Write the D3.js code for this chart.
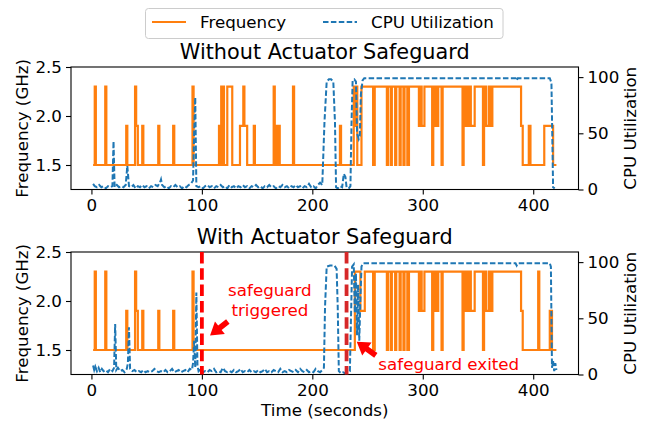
<!DOCTYPE html>
<html>
<head>
<meta charset="utf-8">
<script src="https://cdn.jsdelivr.net/npm/d3@7"></script>
<style>
  body { margin: 0; background: #fff; }
  svg text { font-family: "DejaVu Sans", sans-serif; }
</style>
</head>
<body>
<div class="visHolder"></div>
<script>
// frequency steps: [time (s), GHz], each value holds until the next point
var freqTop = [
  [1.5,1.5],[3,2.3],[4,1.5],[12.5,2.3],[13.5,1.5],[31.5,1.9],[32.5,1.5],[39.5,2.3],[40.5,1.9],[42,1.5],
  [46,1.9],[47,1.5],[60.5,1.9],[61.5,1.5],[74,1.9],[75,1.5],[91.5,2.3],[92.5,1.5],
  [115.5,1.9],[116.5,1.5],[117.5,2.3],[118,1.5],[119,2.3],[120,1.5],[123,2.3],[127.5,1.5],
  [134.5,1.9],[137.5,2.3],[138.5,1.9],[141,1.5],[147,1.9],[148,1.5],[165,2.3],[166,1.5],[167,1.9],
  [168,1.5],[169.5,1.9],[170.5,1.5],[182.5,2.3],[183.5,1.5],[225,1.9],[226,1.5],
  [237.5,2.3],[238.5,1.9],[239,2.3],[240.7,1.5],[244.5,2.3],[255,1.5],[256.5,2.3],[267.5,1.5],[268.5,2.3],
  [271,1.5],[272,2.3],[275,1.5],[276,2.3],[279,1.5],[280,2.3],[282.5,1.5],[283.5,2.3],[286,1.5],[287.5,2.3],
  [296.5,1.9],[298,2.3],[299,1.9],[301.5,2.3],[308.5,1.5],[309.5,2.3],[310,1.9],[311.5,2.3],[312.5,1.9],
  [314,2.3],[317,1.5],[318,2.3],[336,1.5],[337,2.3],[338.5,1.9],[340,2.3],[341,1.9],[342,2.3],
  [343.5,1.9],[347,2.3],[354.5,1.5],[355.5,2.3],[357.5,1.9],[360,2.3],[361,1.9],[363,2.3],
  [389,1.9],[390.5,1.5],[396,1.9],[397.5,1.5],[410,1.9],[418,1.5],[421,1.5]
];

var freqBottom = [
  [1.5,1.5],[3,2.3],[4,1.5],[12.5,2.3],[13.5,1.5],[31.5,1.9],[32.5,1.5],[39.5,2.3],[40.5,1.9],[42,1.5],
  [46,1.9],[47,1.5],[60.5,1.9],[61.5,1.5],[74,1.9],[75,1.5],[91.5,2.3],[92.5,1.5],
  [238.5,2.3],[243.5,1.9],[247.5,2.3],[255,1.5],[256.5,2.3],[267.5,1.5],[268.5,2.3],
  [271,1.5],[272,2.3],[275,1.5],[276,2.3],[279,1.5],[280,2.3],[282.5,1.5],[283.5,2.3],[286,1.5],[287.5,2.3],
  [296.5,1.9],[298,2.3],[299,1.9],[301.5,2.3],[308.5,1.5],[309.5,2.3],[310,1.9],[311.5,2.3],[312.5,1.9],
  [314,2.3],[317,1.5],[318,2.3],[336,1.5],[337,2.3],[338.5,1.9],[340,2.3],[341,1.9],[342,2.3],
  [343.5,1.9],[347,2.3],[354.5,1.5],[355.5,2.3],[357.5,1.9],[360,2.3],[361,1.9],[363,2.3],
  [389,1.9],[390.5,1.5],[404.5,2.3],[405.5,1.5],[415,1.9],[417,1.5],[421,1.5]
];

// cpu utilization samples: [time (s), %]
var cpuTop = [
  [1.5,5],[3,3],[5,2],[7,4],[9,2],[11,3],[13,1],[15,3],[17,2],[19,3],[20,43],[21,2],[23,4],[25,2],
  [27,3],[29,2],[31,4],[32.5,21],[34,3],[36,2],[38,4],[40,1],[42,3],[44,2],[46,4],[48,2],[50,3],[52,1],
  [54,3],[56,2],[58,4],[60,3],[62,6],[63,9],[64,4],[66,2],[68,3],[70,1],[72,3],[74,2],[76,4],[78,2],
  [80,3],[82,1],[84,3],[86,2],[88,4],[90,5],[92,8],[93,50],[94,82],[95,3],[97,2],[99,3],[101,1],[103,3],
  [105,4],[107,2],[109,3],[111,1],[113,3],[115,2],[117,4],[119,2],[121,3],[123,1],[125,4],[127,2],
  [129,3],[131,1],[133,3],[135,2],[137,4],[139,2],[141,3],[143,1],[145,3],[147,2],[149,4],[151,2],
  [153,3],[155,1],[157,3],[159,2],[161,4],[163,2],[165,3],[167,1],[169,3],[171,2],[173,4],[175,2],
  [177,3],[179,1],[181,3],[183,2],[185,4],[187,2],[189,3],[191,1],[193,3],[195,2],[197,5],[199,2],
  [201,3],[203,1],[205,4],[207,6],[209,4],[211,60],[213,96],[215,98],[217,98],[219,96],[220.5,60],
  [221.5,2],[223,1],[225,3],[227,2],[228.5,14],[230,11],[231,2],[233,1],[234.5,3],[235.5,60],[236.5,97],
  [238,98],[239.5,96],[240.5,50],[242,45],[243,48],[244,85],[245.5,97],[247,99],[384,99],[385,97],
  [386,99],[415,99],[416.5,95],[418,2],[419.5,1]
];

var cpuBottom = [
  [1.5,8],[2.5,4],[3.5,7],[5,3],[6.5,6],[8,2],[9.5,5],[11,3],[13,4],[15,2],[17,5],[19,3],[20.5,6],
  [21.5,45],[22.5,4],[24,6],[26,3],[28,4],[30,2],[32,5],[33,10],[34,42],[35,5],[37,3],[39,4],[41,2],
  [43,3],[45,2],[47,4],[49,2],[51,3],[53,2],[55,3],[57,5],[59,3],[61,2],[63,3],[65,2],[67,4],[69,2],
  [71,3],[73,5],[75,2],[77,3],[79,4],[81,2],[83,3],[85,4],[87,2],[89,5],[91,4],[92,10],[93,30],[94,6],
  [95,73],[96,8],[97,3],[99,5],[101,2],[103,3],[105,2],[107,4],[109,3],[111,5],[113,2],[115,3],[117,2],
  [119,6],[121,3],[123,2],[125,3],[127,2],[129,4],[131,2],[133,3],[135,5],[137,2],[139,3],[141,2],
  [143,4],[145,2],[147,3],[149,2],[151,4],[153,2],[155,3],[157,5],[159,2],[161,3],[163,2],[165,4],
  [167,3],[169,2],[171,5],[173,2],[175,3],[177,2],[179,4],[181,3],[183,2],[185,4],[187,2],[189,5],
  [191,3],[193,2],[195,4],[197,2],[199,3],[201,2],[203,5],[205,3],[207,2],[209,4],[210.5,6],[211.5,60],
  [213,96],[216,97],[220,97],[222,94],[223,60],[224,3],[226,1],[228,2],[230,1],[232,2],[234,3],[235,50],
  [236,96],[237.5,98],[238.5,55],[239.5,90],[240.5,35],[241.5,80],[242.5,30],[243.5,65],[244.5,96],
  [246,99],[384,99],[385,97],[386,99],[415,99],[416,96],[417,6],[418,12],[419,3],[420,10],[421,4]
];

var xTicks = [0, 100, 200, 300, 400];
var freqTicks = [1.5, 2.0, 2.5];
var cpuTicks = [0, 50, 100];
var safeguardTimes = [100, 231];

var width = 648,
  height = 421,
  left = 71,
  right = 578.5,
  panelH = 122.5,
  fontSize = 16.7;

var orange = '#ff7f0e', blue = '#1f77b4';

var svg = d3.select('.visHolder').append('svg').attr('width', width).attr('height', height);

var xScale = d3.scaleLinear().domain([-18.5, 441]).range([left, right]);

function drawPanel(top, title, freqData, cpuData) {
  var bottom = top + panelH;
  var yFreq = d3.scaleLinear().domain([1.25, 2.5]).range([bottom, top]);
  var yCpu = d3.scaleLinear().domain([0, 109]).range([bottom, top]);
  var g = svg.append('g');

  var clipId = 'clip' + top;
  g.append('clipPath').attr('id', clipId)
    .append('rect').attr('x', left).attr('y', top).attr('width', right - left).attr('height', panelH);

  var freqLine = d3.line().x(d => xScale(d[0])).y(d => yFreq(d[1])).curve(d3.curveStepAfter);
  var cpuLine = d3.line().x(d => xScale(d[0])).y(d => yCpu(d[1]));

  g.append('path')
    .datum(freqData)
    .attr('clip-path', 'url(#' + clipId + ')')
    .attr('d', freqLine)
    .attr('fill', 'none')
    .attr('stroke', orange)
    .attr('stroke-width', 2.2);

  g.append('path')
    .datum(cpuData)
    .attr('clip-path', 'url(#' + clipId + ')')
    .attr('d', cpuLine)
    .attr('fill', 'none')
    .attr('stroke', blue)
    .attr('stroke-width', 2)
    .attr('stroke-dasharray', '5.5,2.4');

  var xAxis = d3.axisBottom(xScale).tickValues(xTicks).tickSize(5).tickPadding(5).tickFormat(d3.format('d'));
  var leftAxis = d3.axisLeft(yFreq).tickValues(freqTicks).tickSize(5).tickPadding(4).tickFormat(d3.format('.1f'));
  var rightAxis = d3.axisRight(yCpu).tickValues(cpuTicks).tickSize(5).tickPadding(4).tickFormat(d3.format('d'));

  [[xAxis, 'translate(0,' + bottom + ')'], [leftAxis, 'translate(' + left + ',0)'], [rightAxis, 'translate(' + right + ',0)']]
    .forEach(function (a) {
      var ax = g.append('g').attr('transform', a[1]).call(a[0]);
      ax.select('.domain').remove();
      ax.selectAll('line').attr('stroke', '#000').attr('stroke-width', 1.1);
      ax.selectAll('text').attr('fill', '#000').style('font-size', fontSize + 'px');
    });

  g.append('rect')
    .attr('x', left).attr('y', top)
    .attr('width', right - left).attr('height', panelH)
    .attr('fill', 'none').attr('stroke', '#000').attr('stroke-width', 1.1);

  g.append('text')
    .attr('x', (left + right) / 2).attr('y', top - 8)
    .attr('text-anchor', 'middle')
    .style('font-size', '20.8px')
    .text(title);

  g.append('text')
    .attr('transform', 'translate(22,' + (top + panelH / 2) + ') rotate(-90)')
    .attr('dy', '0.35em')
    .attr('text-anchor', 'middle')
    .style('font-size', fontSize + 'px')
    .text('Frequency (GHz)');

  g.append('text')
    .attr('transform', 'translate(630,' + (top + panelH / 2) + ') rotate(-90)')
    .attr('dy', '0.35em')
    .attr('text-anchor', 'middle')
    .style('font-size', fontSize + 'px')
    .text('CPU Utilization');

  return { g: g, yFreq: yFreq, top: top, bottom: bottom };
}

drawPanel(67, 'Without Actuator Safeguard', freqTop, cpuTop);
var p2 = drawPanel(252, 'With Actuator Safeguard', freqBottom, cpuBottom);

// safeguard markers
p2.g.selectAll('.vline')
  .data(safeguardTimes)
  .enter()
  .append('line')
  .attr('class', 'vline')
  .attr('x1', d => xScale(d)).attr('x2', d => xScale(d))
  .attr('y1', p2.top).attr('y2', p2.bottom)
  .attr('stroke', (d, i) => i === 0 ? '#ff0000' : '#d62728')
  .attr('stroke-width', 3.8)
  .attr('stroke-dasharray', '11.5,4.8');

function arrow(g, tail, tip) {
  var x0 = xScale(tail[0]), y0 = p2.yFreq(tail[1]);
  var x1 = xScale(tip[0]), y1 = p2.yFreq(tip[1]);
  var len = Math.hypot(x1 - x0, y1 - y0);
  var ux = (x1 - x0) / len, uy = (y1 - y0) / len;
  var nx = -uy, ny = ux;
  var hl = 12.5, hw = 8, sw = 2.8;
  var bx = x1 - ux * hl, by = y1 - uy * hl;
  var pts = [
    [x0 + nx * sw, y0 + ny * sw], [bx + nx * sw, by + ny * sw], [bx + nx * hw, by + ny * hw],
    [x1, y1],
    [bx - nx * hw, by - ny * hw], [bx - nx * sw, by - ny * sw], [x0 - nx * sw, y0 - ny * sw]
  ];
  g.append('path').attr('d', 'M' + pts.join('L') + 'Z').attr('fill', '#ff0000');
}

arrow(p2.g, [123.5, 1.79], [107.4, 1.648]);
arrow(p2.g, [257.5, 1.445], [240.2, 1.585]);

var triggered = p2.g.append('text')
  .attr('x', xScale(161.6)).attr('y', p2.yFreq(2.046))
  .attr('text-anchor', 'middle')
  .attr('fill', '#ff0000')
  .style('font-size', fontSize + 'px');
triggered.append('tspan').attr('x', xScale(161.6)).text('safeguard');
triggered.append('tspan').attr('x', xScale(161.6)).attr('dy', '1.17em').text('triggered');

p2.g.append('text')
  .attr('x', xScale(259.8)).attr('y', p2.yFreq(1.301))
  .attr('fill', '#ff0000')
  .style('font-size', fontSize + 'px')
  .text('safeguard exited');

svg.append('text')
  .attr('x', (left + right) / 2).attr('y', 416)
  .attr('text-anchor', 'middle')
  .style('font-size', fontSize + 'px')
  .text('Time (seconds)');

// legend
var legend = svg.append('g').attr('id', 'legend');
legend.append('rect')
  .attr('x', 145.5).attr('y', 8.5).attr('width', 357.5).attr('height', 30).attr('rx', 3)
  .attr('fill', '#fff').attr('stroke', '#cccccc').attr('stroke-width', 1);

var legendItems = legend.selectAll('.legend-item')
  .data([['Frequency', orange, null, 152], ['CPU Utilization', blue, '5.5,2.4', 323]])
  .enter()
  .append('g')
  .attr('class', 'legend-item');

legendItems.append('line')
  .attr('x1', d => d[3]).attr('x2', d => d[3] + 34)
  .attr('y1', 22).attr('y2', 22)
  .attr('stroke', d => d[1])
  .attr('stroke-width', 2)
  .attr('stroke-dasharray', d => d[2]);

legendItems.append('text')
  .attr('x', d => d[3] + 48).attr('y', 22)
  .attr('dy', '0.35em')
  .style('font-size', fontSize + 'px')
  .text(d => d[0]);
</script>
</body>
</html>
